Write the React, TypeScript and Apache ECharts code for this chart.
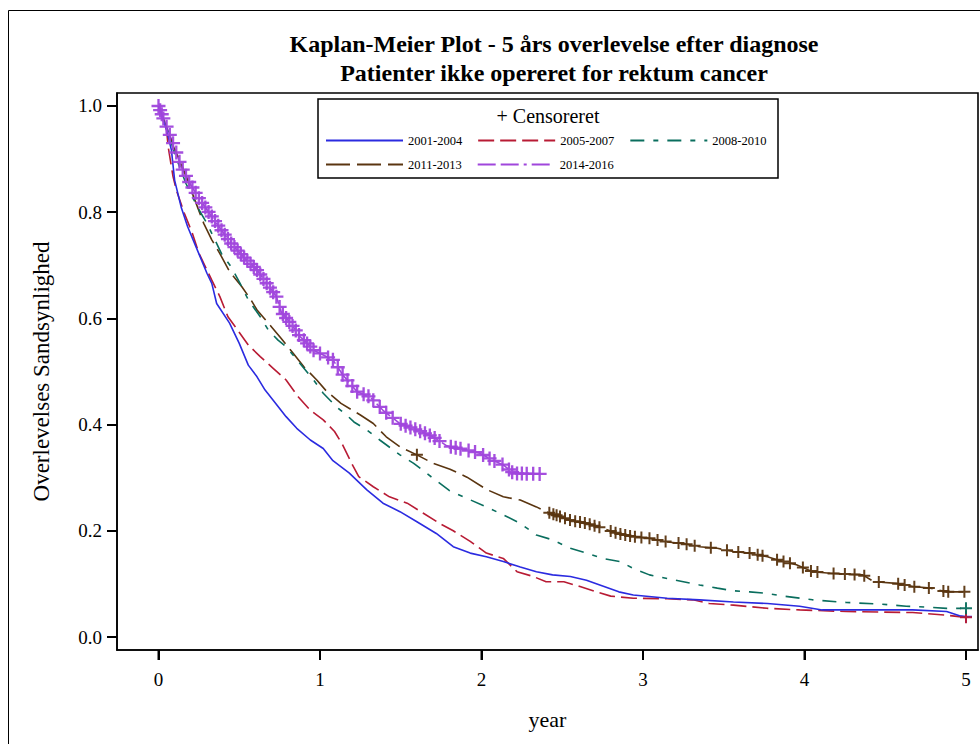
import React, { useEffect, useRef } from "react";
import * as echarts from "echarts";

// ---- Data ----
const seriesNames = ["2001-2004", "2005-2007", "2008-2010", "2011-2013", "2014-2016"];

const t2001 = [0, 0.05, 0.08, 0.1, 0.14, 0.18, 0.24, 0.3, 0.33, 0.36, 0.44, 0.5, 0.556, 0.61, 0.66, 0.71, 0.79, 0.856, 0.94, 1.02, 1.08, 1.18, 1.29, 1.39, 1.495, 1.6, 1.72, 1.825, 1.93, 2.03, 2.135, 2.24, 2.34, 2.44, 2.55, 2.65, 2.75, 2.85, 2.94, 3.15, 3.35, 3.56, 3.77, 3.97, 4.11, 4.67, 4.88, 4.96, 5.0];
const s2001 = [1.0, 0.955, 0.917, 0.86, 0.81, 0.773, 0.729, 0.685, 0.666, 0.628, 0.591, 0.553, 0.512, 0.49, 0.465, 0.446, 0.415, 0.393, 0.371, 0.355, 0.332, 0.309, 0.277, 0.252, 0.236, 0.217, 0.195, 0.17, 0.158, 0.151, 0.142, 0.132, 0.123, 0.117, 0.114, 0.107, 0.096, 0.085, 0.079, 0.073, 0.07, 0.066, 0.063, 0.058, 0.051, 0.051, 0.048, 0.04, 0.038];

const t2005 = [0, 0.05, 0.06, 0.09, 0.11, 0.16, 0.21, 0.25, 0.33, 0.38, 0.43, 0.49, 0.556, 0.63, 0.71, 0.79, 0.866, 0.94, 1.02, 1.09, 1.14, 1.196, 1.24, 1.33, 1.43, 1.54, 1.64, 1.74, 1.825, 1.93, 2.03, 2.135, 2.22, 2.32, 2.4, 2.51, 2.61, 2.71, 2.8, 2.94, 3.15, 3.31, 3.41, 3.56, 3.77, 3.97, 4.26, 4.67, 4.88, 5.0];
const s2005 = [1.0, 0.955, 0.923, 0.867, 0.842, 0.798, 0.76, 0.723, 0.672, 0.641, 0.603, 0.578, 0.55, 0.528, 0.506, 0.484, 0.452, 0.427, 0.409, 0.387, 0.362, 0.327, 0.302, 0.283, 0.264, 0.252, 0.233, 0.214, 0.2, 0.18, 0.158, 0.148, 0.123, 0.114, 0.104, 0.104, 0.095, 0.085, 0.077, 0.073, 0.072, 0.07, 0.063, 0.06, 0.054, 0.051, 0.048, 0.046, 0.041, 0.037];

const t2008 = [0, 0.05, 0.1, 0.17, 0.24, 0.3, 0.39, 0.45, 0.505, 0.556, 0.63, 0.68, 0.74, 0.79, 0.876, 0.96, 1.02, 1.1, 1.175, 1.21, 1.29, 1.37, 1.495, 1.58, 1.7, 1.8, 1.91, 2.03, 2.135, 2.24, 2.34, 2.44, 2.55, 2.65, 2.75, 2.86, 2.94, 3.04, 3.15, 3.25, 3.35, 3.46, 3.56, 3.66, 3.77, 3.87, 4.05, 4.26, 4.47, 4.63, 4.78, 4.88, 5.0];
const s2008 = [1.0, 0.96, 0.91, 0.854, 0.81, 0.779, 0.722, 0.697, 0.666, 0.635, 0.603, 0.578, 0.559, 0.547, 0.515, 0.484, 0.459, 0.434, 0.415, 0.405, 0.39, 0.371, 0.343, 0.327, 0.299, 0.276, 0.261, 0.245, 0.23, 0.214, 0.192, 0.183, 0.167, 0.158, 0.148, 0.142, 0.129, 0.117, 0.11, 0.104, 0.098, 0.092, 0.087, 0.085, 0.082, 0.077, 0.07, 0.065, 0.062, 0.058, 0.056, 0.054, 0.054];

const t2011 = [0, 0.05, 0.09, 0.14, 0.21, 0.28, 0.33, 0.38, 0.44, 0.515, 0.57, 0.61, 0.7, 0.76, 0.835, 0.9, 0.98, 1.04, 1.13, 1.25, 1.33, 1.41, 1.495, 1.6, 1.7, 1.805, 1.91, 2.03, 2.135, 2.24, 2.34, 2.4, 2.55, 2.65, 2.75, 2.84, 2.94, 3.04, 3.15, 3.25, 3.35, 3.46, 3.56, 3.66, 3.77, 3.87, 3.95, 4.05, 4.16, 4.36, 4.43, 4.57, 4.67, 4.78, 4.88, 5.0];
const s2011 = [1.0, 0.96, 0.925, 0.892, 0.835, 0.779, 0.748, 0.722, 0.688, 0.66, 0.636, 0.616, 0.584, 0.562, 0.534, 0.509, 0.484, 0.463, 0.44, 0.418, 0.402, 0.377, 0.358, 0.343, 0.327, 0.316, 0.301, 0.278, 0.264, 0.258, 0.245, 0.236, 0.22, 0.214, 0.205, 0.195, 0.189, 0.186, 0.179, 0.176, 0.17, 0.167, 0.161, 0.158, 0.151, 0.142, 0.136, 0.123, 0.12, 0.117, 0.104, 0.101, 0.095, 0.092, 0.085, 0.085];

const t2014 = [0, 0.05, 0.09, 0.14, 0.195, 0.257, 0.33, 0.39, 0.45, 0.525, 0.61, 0.68, 0.73, 0.76, 0.835, 0.876, 0.94, 0.96, 1.08, 1.14, 1.23, 1.31, 1.39, 1.495, 1.6, 1.7, 1.785, 1.91, 1.99, 2.07, 2.135, 2.2, 2.38];
const s2014 = [1.0, 0.961, 0.93, 0.886, 0.854, 0.823, 0.792, 0.766, 0.741, 0.716, 0.691, 0.662, 0.641, 0.612, 0.584, 0.566, 0.547, 0.54, 0.522, 0.494, 0.462, 0.452, 0.427, 0.402, 0.39, 0.377, 0.36, 0.352, 0.346, 0.333, 0.324, 0.308, 0.307];

// censoring times
const c2001 = [5.0];
const c2005 = [5.0];
const c2008 = [5.0];
const c2011 = [1.6, 2.42, 2.445, 2.465, 2.486, 2.517, 2.548, 2.58, 2.61, 2.64, 2.67, 2.7, 2.73, 2.8, 2.83, 2.86, 2.89, 2.92, 2.95, 2.99, 3.04, 3.09, 3.14, 3.22, 3.27, 3.32, 3.42, 3.52, 3.59, 3.66, 3.71, 3.74, 3.83, 3.87, 3.91, 3.99, 4.04, 4.08, 4.18, 4.25, 4.31, 4.37, 4.46, 4.58, 4.62, 4.68, 4.77, 4.86, 4.89, 4.99];
const c2014 = [0.0, 0.01, 0.02, 0.03, 0.05, 0.07, 0.09, 0.11, 0.13, 0.15, 0.17, 0.19, 0.21, 0.23, 0.25, 0.27, 0.29, 0.31, 0.33, 0.35, 0.37, 0.39, 0.41, 0.43, 0.45, 0.47, 0.49, 0.51, 0.53, 0.55, 0.57, 0.59, 0.61, 0.63, 0.65, 0.67, 0.69, 0.71, 0.73, 0.75, 0.77, 0.79, 0.81, 0.83, 0.85, 0.87, 0.9, 0.92, 0.94, 0.96, 1.0, 1.05, 1.08, 1.11, 1.14, 1.17, 1.2, 1.23, 1.27, 1.3, 1.33, 1.37, 1.41, 1.45, 1.5, 1.53, 1.56, 1.59, 1.62, 1.65, 1.68, 1.71, 1.74, 1.81, 1.84, 1.87, 1.92, 1.96, 2.01, 2.05, 2.08, 2.13, 2.17, 2.19, 2.22, 2.25, 2.28, 2.32, 2.36];

const xTicks = [0, 1, 2, 3, 4, 5];
const yTicks = [0, 0.2, 0.4, 0.6, 0.8, 1.0];

const colors = ["#2b2be0", "#b81b34", "#0a6e5e", "#5a3510", "#a046dc"];
const dashes: (number[] | "solid")[] = ["solid", [16, 6], [14, 9, 5, 9], [24, 7], [18, 5, 18, 5, 3, 5]];
const censorSizes = [12, 12, 12, 12, 14];

const FONT = "Liberation Serif";
const PLUS = "path://M5,0H7V5H12V7H7V12H5V7H0V5H5Z";

function survivalAt(ts: number[], ss: number[], t: number): number {
  for (let i = 1; i < ts.length; i++) {
    if (t <= ts[i]) {
      const f = (t - ts[i - 1]) / (ts[i] - ts[i - 1]);
      return ss[i - 1] + f * (ss[i] - ss[i - 1]);
    }
  }
  return ss[ss.length - 1];
}

export default function App() {
  const ref = useRef<HTMLDivElement>(null);
  useEffect(() => {
    if (!ref.current) return;
    const chart = echarts.init(ref.current, null, { renderer: "svg" });
    const T = [t2001, t2005, t2008, t2011, t2014];
    const S = [s2001, s2005, s2008, s2011, s2014];
    const C = [c2001, c2005, c2008, c2011, c2014];

    const lineSeries = seriesNames.map((name, i) => ({
      name,
      type: "line",
      data: T[i].map((t, j) => [t, S[i][j]]),
      showSymbol: false,
      symbol: "none",
      clip: false,
      color: colors[i],
      lineStyle: { color: colors[i], width: 1.6, type: dashes[i] },
      z: 2 + (4 - i),
    }));
    const censorSeries = seriesNames.map((name, i) => ({
      name: "cens " + name,
      type: "scatter",
      data: C[i].map((t) => [t, survivalAt(T[i], S[i], t)]),
      symbol: PLUS,
      symbolSize: censorSizes[i],
      clip: false,
      itemStyle: { color: colors[i], opacity: 0.95 },
      z: 10,
      silent: true,
    }));

    const legendCommon = {
      left: 320,
      itemWidth: 77,
      itemHeight: 14,
      itemGap: 15,
      itemStyle: { opacity: 0 },
      textStyle: { fontFamily: FONT, fontSize: 12.5, color: "#000" },
    };

    chart.setOption({
      animation: false,
      backgroundColor: "#ffffff",
      textStyle: { fontFamily: FONT },
      title: {
        text: "Kaplan-Meier Plot - 5 års overlevelse efter diagnose\nPatienter ikke opereret for rektum cancer",
        left: 549,
        top: 24,
        textAlign: "center",
        textStyle: { fontFamily: FONT, fontWeight: "bold", fontSize: 24, lineHeight: 29, color: "#000" },
      },
      legend: [
        { ...legendCommon, data: seriesNames.slice(0, 3), top: 129 },
        { ...legendCommon, data: seriesNames.slice(3), top: 153 },
      ],
      grid: { left: 117, right: 2, top: 93, bottom: 94, containLabel: false },
      xAxis: {
        type: "value",
        position: "bottom",
        min: -0.257,
        max: 5.0743,
        name: "year",
        nameLocation: "middle",
        nameGap: 58,
        nameTextStyle: { fontFamily: FONT, fontSize: 22, color: "#000" },
        axisLine: { show: true, onZero: false, lineStyle: { color: "#000", width: 1.6 } },
        axisTick: { show: true, inside: false, length: 10, customValues: xTicks, lineStyle: { color: "#000", width: 2 } },
        axisLabel: { fontFamily: FONT, fontSize: 19, color: "#000", margin: 20, customValues: xTicks },
        splitLine: { show: false },
      },
      yAxis: {
        type: "value",
        position: "left",
        min: -0.02448,
        max: 1.02448,
        name: "Overlevelses Sandsynlighed",
        nameLocation: "middle",
        nameGap: 64,
        nameTextStyle: { fontFamily: FONT, fontSize: 23, color: "#000" },
        axisLine: { show: true, onZero: false, lineStyle: { color: "#000", width: 1.6 } },
        axisTick: { show: true, inside: false, length: 10, customValues: yTicks, lineStyle: { color: "#000", width: 2 } },
        axisLabel: {
          fontFamily: FONT,
          fontSize: 19,
          color: "#000",
          margin: 15,
          customValues: yTicks,
          formatter: (v: number) => v.toFixed(1),
        },
        splitLine: { show: false },
      },
      graphic: [
        {
          id: "outer",
          type: "rect",
          shape: { x: 8.5, y: 10.5, width: 1000, height: 800 },
          style: { fill: "none", stroke: "#000", lineWidth: 1 },
          silent: true,
          z: -10,
        },
        {
          id: "frame",
          type: "rect",
          shape: { x: 117, y: 93, width: 861, height: 557 },
          style: { fill: "none", stroke: "#000", lineWidth: 1.6 },
          silent: true,
          z: 50,
        },
        {
          id: "legbox",
          type: "rect",
          shape: { x: 318, y: 99, width: 460, height: 79 },
          style: { fill: "#fff", stroke: "#000", lineWidth: 1.5 },
          silent: true,
          z: 0,
        },
        {
          id: "legtitle",
          type: "text",
          x: 548,
          y: 116,
          style: {
            text: "+ Censoreret",
            fontFamily: FONT,
            fontSize: 20,
            fill: "#000",
            align: "center",
            verticalAlign: "middle",
          },
          silent: true,
          z: 51,
        },
      ],
      series: [...lineSeries, ...censorSeries],
    });

    // explicit x ticks placed through the axis scale (below the frame)
    try {
      const yBottom = chart.convertToPixel({ yAxisIndex: 0 }, -0.02448) as number;
      const tickEls = xTicks.map((v, i) => {
        const px = chart.convertToPixel({ xAxisIndex: 0 }, v) as number;
        return {
          id: "xt" + i,
          type: "line",
          shape: { x1: px, y1: yBottom, x2: px, y2: yBottom + 10 },
          style: { stroke: "#000", lineWidth: 2 },
          silent: true,
          z: 60,
        };
      });
      if (tickEls.every((e) => isFinite(e.shape.x1) && isFinite(e.shape.y1))) {
        chart.setOption({ graphic: tickEls });
      }
    } catch (e) {
      // ignore
    }
    return () => chart.dispose();
  }, []);
  return (
    <div
      ref={ref}
      style={{ position: "fixed", left: 0, top: 0, width: 980, height: 744, background: "#fff" }}
    />
  );
}
